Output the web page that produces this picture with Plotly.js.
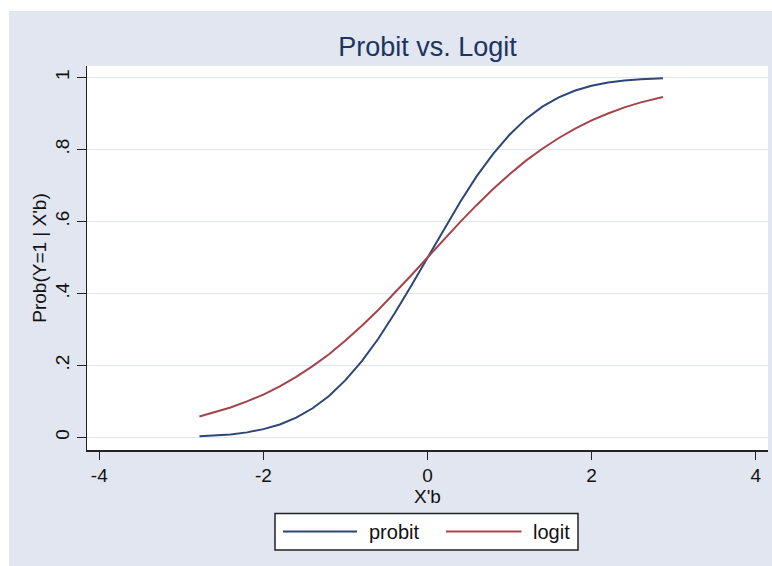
<!DOCTYPE html>
<html>
<head>
<meta charset="utf-8">
<script src="https://cdn.plot.ly/plotly-3.0.1.min.js"></script>
<style>html,body{margin:0;padding:0;background:#fff;}#chart{width:772px;height:566px;}</style>
</head>
<body>
<div id="chart"></div>
<script>
// Data
const xb = [-2.78, -2.6, -2.4, -2.2, -2.0, -1.8, -1.6, -1.4, -1.2, -1.0, -0.8, -0.6, -0.4, -0.2, 0.0,
            0.2, 0.4, 0.6, 0.8, 1.0, 1.2, 1.4, 1.6, 1.8, 2.0, 2.2, 2.4, 2.6, 2.87];
const probit = [0.003, 0.005, 0.008, 0.014, 0.023, 0.036, 0.055, 0.081, 0.115, 0.159, 0.212, 0.274, 0.345, 0.421, 0.500,
                0.579, 0.655, 0.726, 0.788, 0.841, 0.885, 0.919, 0.945, 0.964, 0.977, 0.986, 0.992, 0.995, 0.998];
const logit = [0.058, 0.069, 0.083, 0.100, 0.119, 0.142, 0.168, 0.198, 0.231, 0.269, 0.310, 0.354, 0.401, 0.450, 0.500,
               0.550, 0.599, 0.646, 0.690, 0.731, 0.769, 0.802, 0.832, 0.858, 0.881, 0.900, 0.917, 0.931, 0.946];
const seriesNames = ["probit", "logit"];
const yTickVals = [0, 0.2, 0.4, 0.6, 0.8, 1];
const yTickText = ["0", ".2", ".4", ".6", ".8", "1"];
const xTickVals = [-4, -2, 0, 2, 4];
const xTickText = ["-4", "-2", "0", "2", "4"];

const W = 772, H = 566;
const M = {l: 87, r: 4, t: 66, b: 116};
const pw = W - M.l - M.r, ph = H - M.t - M.b;
const px = v => (v - M.l) / pw;          // pixel x -> paper x
const py = v => (H - M.b - v) / ph;      // pixel y -> paper y

const colProbit = "#2c4676";
const colLogit = "#a3444b";
const bg = "#e1e6f0";
const font = "Liberation Sans, Arial, sans-serif";

const traces = [
  {x: xb, y: probit, name: seriesNames[0], type: "scatter", mode: "lines",
   line: {color: colProbit, width: 2}, showlegend: false},
  {x: xb, y: logit, name: seriesNames[1], type: "scatter", mode: "lines",
   line: {color: colLogit, width: 2}, showlegend: false}
];

const shapes = [
  // white outer strips (top and left)
  {type: "rect", xref: "paper", yref: "paper", x0: px(0), x1: px(W), y0: py(11), y1: py(0),
   fillcolor: "#ffffff", line: {width: 0}, layer: "above"},
  {type: "rect", xref: "paper", yref: "paper", x0: px(0), x1: px(9), y0: py(H), y1: py(0),
   fillcolor: "#ffffff", line: {width: 0}, layer: "above"},
  // legend box
  {type: "rect", xref: "paper", yref: "paper", x0: px(275), x1: px(578), y0: py(550), y1: py(513.5),
   fillcolor: "#ffffff", line: {color: "#222222", width: 1.5}},
  {type: "line", xref: "paper", yref: "paper", x0: px(283), x1: px(357), y0: py(531.5), y1: py(531.5),
   line: {color: colProbit, width: 2}},
  {type: "line", xref: "paper", yref: "paper", x0: px(446), x1: px(521.5), y0: py(531.5), y1: py(531.5),
   line: {color: colLogit, width: 2}}
];

const annotations = [
  {xref: "paper", yref: "paper", x: px(367), y: py(531.5), text: seriesNames[0], showarrow: false,
   xanchor: "left", yanchor: "middle", font: {family: font, size: 20, color: "#111"}},
  {xref: "paper", yref: "paper", x: px(531), y: py(531.5), text: seriesNames[1], showarrow: false,
   xanchor: "left", yanchor: "middle", font: {family: font, size: 20, color: "#111"}}
];

const layout = {
  width: W, height: H,
  margin: M,
  paper_bgcolor: bg,
  plot_bgcolor: "#ffffff",
  font: {family: font, color: "#111"},
  title: {text: "Probit vs. Logit", font: {family: font, size: 27, color: "#1c3460"},
          x: 0.5, xref: "paper", xanchor: "center", y: 1 - 47 / H, yanchor: "middle"},
  xaxis: {
    range: [-4.15, 4.15], tickvals: xTickVals, ticktext: xTickText,
    showgrid: false, zeroline: false,
    showline: true, linecolor: "#222", linewidth: 1.5,
    ticks: "outside", ticklen: 8, tickwidth: 1.5, tickcolor: "#222",
    tickfont: {family: font, size: 19, color: "#111"},
    title: {text: "X'b", font: {family: font, size: 19, color: "#111"}, standoff: 2}
  },
  yaxis: {
    range: [-0.035, 1.032], tickvals: yTickVals, ticktext: yTickText,
    showgrid: true, gridcolor: "#e1e7f2", gridwidth: 1.5, zeroline: false,
    showline: true, linecolor: "#222", linewidth: 1.5,
    ticks: "outside", ticklen: 9, tickwidth: 1.5, tickcolor: "#222",
    tickangle: -90,
    tickfont: {family: font, size: 19, color: "#111"},
    title: {text: "Prob(Y=1 | X'b)", font: {family: font, size: 19, color: "#111"}, standoff: 0}
  },
  shapes: shapes,
  annotations: annotations,
  showlegend: false
};

Plotly.newPlot("chart", traces, layout, {displayModeBar: false, staticPlot: true});
</script>
</body>
</html>
